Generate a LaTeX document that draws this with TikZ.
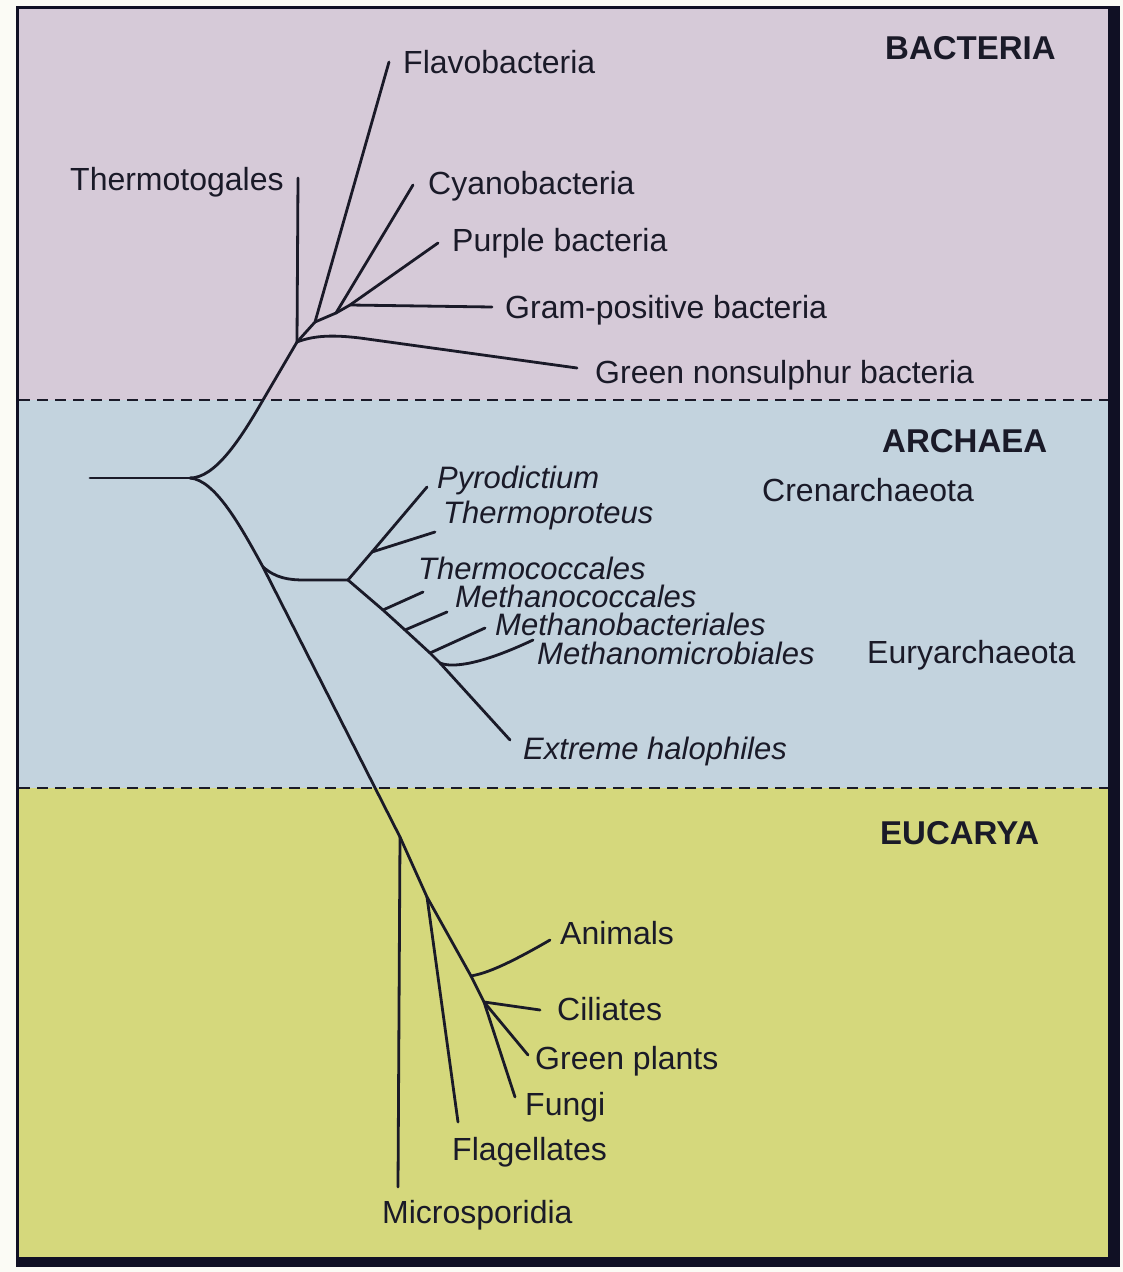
\documentclass[tikz,border=0pt]{standalone}
\usepackage{fontspec}
\setmainfont{Liberation Sans}
\definecolor{bact}{HTML}{D6CAD8}
\definecolor{arch}{HTML}{C3D3DE}
\definecolor{euca}{HTML}{D5D87C}
\definecolor{ink}{HTML}{1A1A28}
\definecolor{frame}{HTML}{101024}
\definecolor{paper}{HTML}{FBFBF5}
\tikzset{
  lbl/.style={anchor=base west,inner sep=0pt,text=ink,font=\fontsize{32}{38}\selectfont},
  ilbl/.style={anchor=base west,inner sep=0pt,text=ink,font=\fontsize{31}{36}\selectfont\itshape},
  head/.style={anchor=base west,inner sep=0pt,text=ink,font=\fontsize{33}{38}\selectfont\bfseries},
  br/.style={draw=ink,line width=2.8pt,line join=round,line cap=round},
  sep/.style={draw=ink,line width=2.4pt,dash pattern=on 11pt off 7pt}
}
\begin{document}
\begin{tikzpicture}[x=1pt,y=-1pt]
\useasboundingbox (0,0) rectangle (1123,1272);
\fill[paper] (0,0) rectangle (1123,1272);
% frame
\fill[frame] (16,6) rectangle (1120,1267);
\fill[bact] (19,9) rectangle (1108,400);
\fill[arch] (19,400) rectangle (1108,788);
\fill[euca] (19,788) rectangle (1108,1257);
\coordinate (s1l) at (19,400); \coordinate (s1r) at (1108,400);
\coordinate (s2l) at (19,788); \coordinate (s2r) at (1108,788);
\draw[sep] (s1l) -- (s1r);
\draw[sep] (s2l) -- (s2r);

% headings
\node[head] (hB) at (885,59) {BACTERIA};
\node[head] (hA) at (882,452) {ARCHAEA};
\node[head] (hE) at (880,844) {EUCARYA};

% ---- tree coordinates
\coordinate (rootL) at (90,478);
\coordinate (J0) at (190,478);
\coordinate (Tb) at (263,400);
\coordinate (Jb) at (297,342);
\coordinate (Jb2) at (315,322);
\coordinate (Jc) at (336,313);
\coordinate (Jp) at (350,305);
\coordinate (tFlavo) at (389,62);
\coordinate (tThermo) at (298,178);
\coordinate (tCyano) at (413,185);
\coordinate (tPurple) at (438,243);
\coordinate (tGram) at (492,307);
\coordinate (tGreenNS) at (577,368);

\coordinate (Je) at (263,567);
\coordinate (Ja) at (348,580);
\coordinate (Jcr) at (372,552);
\coordinate (tPyro) at (427,487);
\coordinate (tThpr) at (435,532);
\coordinate (Ju1) at (383,610);
\coordinate (Ju2) at (405,630);
\coordinate (Ju3) at (430,653);
\coordinate (Ju4) at (440,663);
\coordinate (tTcoc) at (423,592);
\coordinate (tMcoc) at (447,612);
\coordinate (tMbac) at (485,628);
\coordinate (tMmic) at (533,640);
\coordinate (tHalo) at (510,740);

\coordinate (Jm) at (400,837);
\coordinate (Jf) at (427,897);
\coordinate (Jan) at (471,976);
\coordinate (Jci) at (484,1002);
\coordinate (tMicro) at (398,1187);
\coordinate (tFlag) at (458,1122);
\coordinate (tAnim) at (550,940);
\coordinate (tCil) at (540,1010);
\coordinate (tGP) at (528,1055);
\coordinate (tFungi) at (515,1097);

% ---- branches
\draw[br] (rootL) -- (J0);
% bacteria
\draw[br] (J0) .. controls (215,478) and (240,440) .. (Tb) -- (Jb) -- (Jb2) -- (tFlavo);
\draw[br] (Jb) -- (tThermo);
\draw[br] (Jb2) -- (Jc) -- (tCyano);
\draw[br] (Jc) -- (Jp) -- (tPurple);
\draw[br] (Jp) -- (tGram);
\draw[br] (Jb) .. controls (315,335) and (335,335) .. (360,338) -- (tGreenNS);
% archaea
\draw[br] (J0) .. controls (215,480) and (240,525) .. (Je);
\draw[br] (Je) .. controls (276,578) and (288,580) .. (305,580) -- (Ja);
\draw[br] (Ja) -- (Jcr) -- (tPyro);
\draw[br] (Jcr) -- (tThpr);
\draw[br] (Ja) -- (Ju1) -- (Ju2) -- (Ju3) -- (Ju4) -- (tHalo);
\draw[br] (Ju1) -- (tTcoc);
\draw[br] (Ju2) -- (tMcoc);
\draw[br] (Ju3) -- (tMbac);
\draw[br] (Ju4) .. controls (452,668) and (480,665) .. (tMmic);
% eucarya
\draw[br] (Je) -- (Jm) -- (Jf) -- (Jan) -- (Jci) -- (tFungi);
\draw[br] (Jm) -- (tMicro);
\draw[br] (Jf) -- (tFlag);
\draw[br] (Jan) .. controls (480,974) and (495,972) .. (tAnim);
\draw[br] (Jci) -- (tCil);
\draw[br] (Jci) -- (tGP);

% ---- labels
\node[lbl] (lFlavo) at (403,73) {Flavobacteria};
\node[lbl] (lThermo) at (70,190) {Thermotogales};
\node[lbl] (lCyano) at (428,194) {Cyanobacteria};
\node[lbl] (lPurple) at (452,251) {Purple bacteria};
\node[lbl] (lGram) at (505,318) {Gram-positive bacteria};
\node[lbl] (lGreenNS) at (595,383) {Green nonsulphur bacteria};

\node[ilbl] (lPyro) at (437,488) {Pyrodictium};
\node[ilbl] (lThpr) at (443,523) {Thermoproteus};
\node[lbl] (lCren) at (762,501) {Crenarchaeota};
\node[ilbl] (lTcoc) at (418,579) {Thermococcales};
\node[ilbl] (lMcoc) at (455,607) {Methanococcales};
\node[ilbl] (lMbac) at (495,635) {Methanobacteriales};
\node[ilbl] (lMmic) at (537,664) {Methanomicrobiales};
\node[lbl] (lEury) at (867,663) {Euryarchaeota};
\node[ilbl] (lHalo) at (523,759) {Extreme halophiles};

\node[lbl] (lAnim) at (560,944) {Animals};
\node[lbl] (lCil) at (557,1020) {Ciliates};
\node[lbl] (lGP) at (535,1069) {Green plants};
\node[lbl] (lFungi) at (525,1115) {Fungi};
\node[lbl] (lFlag) at (452,1160) {Flagellates};
\node[lbl] (lMicro) at (382,1223) {Microsporidia};
\end{tikzpicture}
\end{document}
